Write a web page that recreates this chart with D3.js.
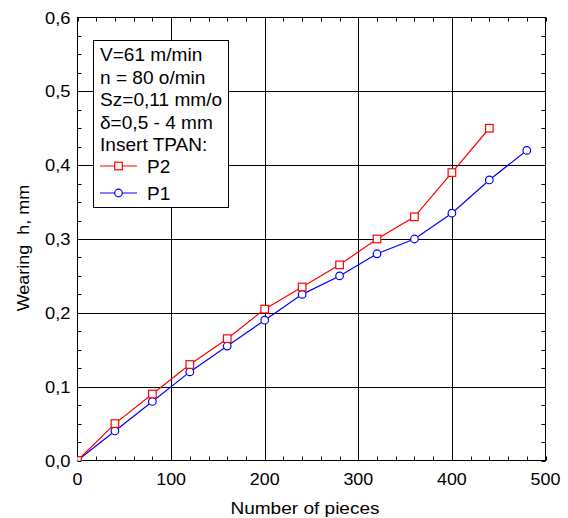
<!DOCTYPE html>
<html><head><meta charset="utf-8">
<script src="https://cdn.jsdelivr.net/npm/d3@7"></script>
<style>body{margin:0;background:#fff;} svg{display:block;} text{font-family:Arial,"Liberation Sans",sans-serif;fill:#000;}</style>
</head><body>
<svg id="c" width="568" height="518"></svg>
<script>
const piecesP2 = [0,40,80,120,160,200,240,280,320,360,400,440];
const wearP2   = [0,0.05,0.09,0.13,0.165,0.205,0.235,0.265,0.30,0.33,0.39,0.45];
const piecesP1 = [0,40,80,120,160,200,240,280,320,360,400,440,480];
const wearP1   = [0,0.04,0.08,0.12,0.155,0.19,0.225,0.25,0.28,0.30,0.335,0.38,0.42];
const xTicks = [0,100,200,300,400,500];
const yTicks = [0,0.1,0.2,0.3,0.4,0.5,0.6];
const yTickLabels = ["0,0","0,1","0,2","0,3","0,4","0,5","0,6"];
const legendLines = ["V=61 m/min","n = 80 o/min","Sz=0,11 mm/o","\u03b4=0,5 - 4 mm","Insert TPAN:"];
const seriesNames = ["P2","P1"];

const svg = d3.select("#c");
const L=77.5, R=545.5, T=17.5, B=460.5;
const x = d3.scaleLinear().domain([0,500]).range([L,R]);
const y = d3.scaleLinear().domain([0,0.6]).range([B,T]);

function stext(parent, tx, ty, str, size, sx, anchor, rot){
  const t = parent.append("text")
    .attr("transform", `translate(${tx},${ty})` + (rot?` rotate(${rot})`:"") + ` scale(${sx},1)`)
    .attr("font-size", size).attr("text-anchor", anchor||"start")
    .style("white-space","pre").text(str);
  return t;
}

// grid
const g = svg.append("g");
g.selectAll(".gx").data(xTicks.slice(1,-1)).enter().append("line")
 .attr("x1",d=>Math.round(x(d))+0.5).attr("x2",d=>Math.round(x(d))+0.5).attr("y1",T).attr("y2",B)
 .attr("stroke","#000").attr("stroke-width",1);
g.selectAll(".gy").data(yTicks.slice(1,-1)).enter().append("line")
 .attr("y1",d=>Math.round(y(d))+0.5).attr("y2",d=>Math.round(y(d))+0.5).attr("x1",L).attr("x2",R)
 .attr("stroke","#000").attr("stroke-width",1);

// minor ticks
const xMinor = d3.range(0,501,20);
const yMinor = d3.range(0,0.6001,0.025);
g.selectAll(".mxb").data(xMinor).enter().append("line")
 .attr("x1",d=>Math.round(x(d))+0.5).attr("x2",d=>Math.round(x(d))+0.5).attr("y1",B).attr("y2",B-4).attr("stroke","#000");
g.selectAll(".mxt").data(xMinor).enter().append("line")
 .attr("x1",d=>Math.round(x(d))+0.5).attr("x2",d=>Math.round(x(d))+0.5).attr("y1",T).attr("y2",T+4).attr("stroke","#000");
g.selectAll(".myl").data(yMinor).enter().append("line")
 .attr("y1",d=>Math.round(y(d))+0.5).attr("y2",d=>Math.round(y(d))+0.5).attr("x1",L).attr("x2",L+4).attr("stroke","#000");
g.selectAll(".myr").data(yMinor).enter().append("line")
 .attr("y1",d=>Math.round(y(d))+0.5).attr("y2",d=>Math.round(y(d))+0.5).attr("x1",R).attr("x2",R-4).attr("stroke","#000");

// frame
svg.append("rect").attr("x",L).attr("y",T).attr("width",R-L).attr("height",B-T)
 .attr("fill","none").attr("stroke","#000").attr("stroke-width",1);

// tick labels
xTicks.forEach(d=>stext(svg, x(d), B+24.5, String(d), 17, 1.05, "middle"));
yTicks.forEach((d,i)=>stext(svg, L-7, y(d)+6, yTickLabels[i], 17, 1.08, "end"));

stext(svg, 305, 514, "Number of pieces", 17, 1.12, "middle");
stext(svg, 29, 248, "Wearing  h, mm", 17, 1.06, "middle", -90);

// clip
svg.append("clipPath").attr("id","clip").append("rect").attr("x",L).attr("y",T).attr("width",R-L).attr("height",B-T);
const plot = svg.append("g").attr("clip-path","url(#clip)");
const line = d3.line().x(d=>x(d[0])).y(d=>y(d[1]));
const p2 = piecesP2.map((v,i)=>[v,wearP2[i]]);
const p1 = piecesP1.map((v,i)=>[v,wearP1[i]]);
plot.append("path").datum(p1).attr("d",line).attr("fill","none").attr("stroke","#0000ff").attr("stroke-width",1.2);
plot.append("path").datum(p2).attr("d",line).attr("fill","none").attr("stroke","#ff0000").attr("stroke-width",1.2);
plot.selectAll(".c1").data(p1).enter().append("circle").attr("cx",d=>x(d[0])).attr("cy",d=>y(d[1])).attr("r",3.8)
 .attr("fill","#fff").attr("stroke","#0000ff").attr("stroke-width",1.2);
plot.selectAll(".s2").data(p2).enter().append("rect").attr("x",d=>x(d[0])-3.8).attr("y",d=>y(d[1])-3.8)
 .attr("width",7.6).attr("height",7.6).attr("fill","#fff").attr("stroke","#ff0000").attr("stroke-width",1.2);

// legend
const lg = svg.append("g");
lg.append("rect").attr("x",93.5).attr("y",40.5).attr("width",135).attr("height",167).attr("fill","#fff").attr("stroke","#000").attr("stroke-width",1);
legendLines.forEach((d,i)=>stext(lg, 100, 61+i*22.5, d, 17.5, 1.09, "start"));
const ly = [166, 193];
const colors = ["#ff0000","#0000ff"];
seriesNames.forEach((n,i)=>{
  lg.append("line").attr("x1",100).attr("x2",137).attr("y1",ly[i]).attr("y2",ly[i]).attr("stroke",colors[i]).attr("stroke-width",1.2);
  if(i===0) lg.append("rect").attr("x",118.5-3.8).attr("y",ly[i]-3.8).attr("width",7.6).attr("height",7.6).attr("fill","#fff").attr("stroke",colors[i]).attr("stroke-width",1.2);
  else lg.append("circle").attr("cx",118.5).attr("cy",ly[i]).attr("r",3.8).attr("fill","#fff").attr("stroke",colors[i]).attr("stroke-width",1.2);
  stext(lg, 147, ly[i]+6.5, n, 17.5, 1.09, "start");
});
</script>
</body></html>
